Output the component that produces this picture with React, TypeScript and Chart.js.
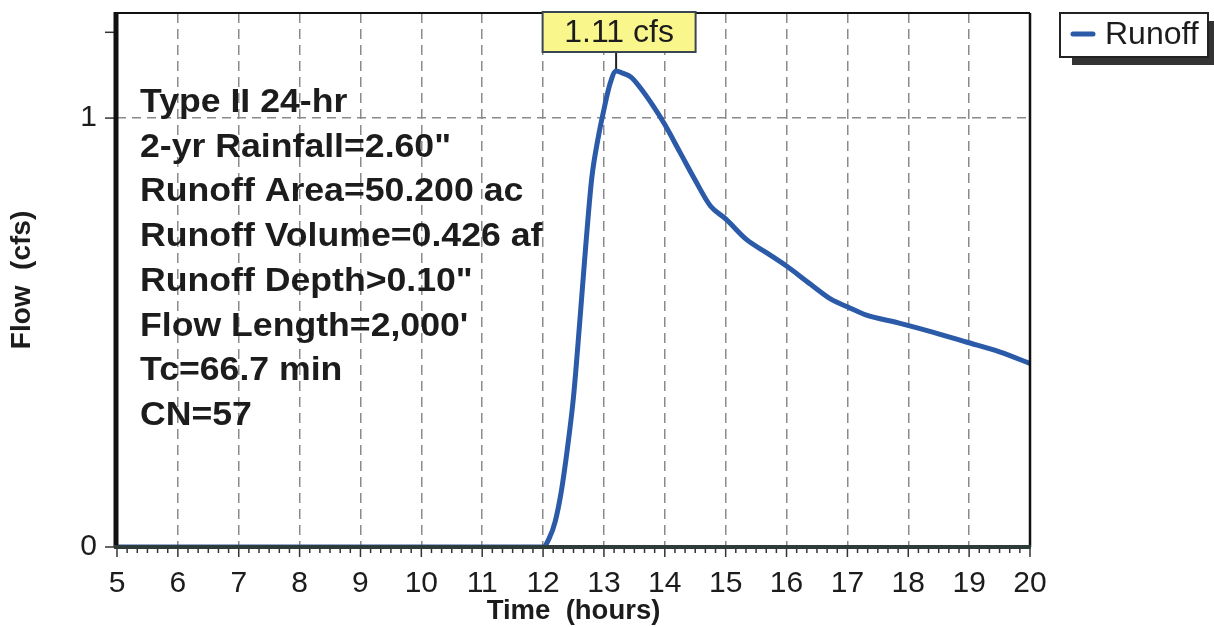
import React, { useEffect, useRef } from 'react';
import { Chart, registerables } from 'chart.js';

Chart.register(...registerables);

// ---- data ----
const timeHours = [5, 12.0, 12.1, 12.2, 12.3, 12.4, 12.5, 12.6, 12.7, 12.8, 12.9, 13.0, 13.1, 13.2, 13.3, 13.45, 13.6, 13.8, 14.0, 14.25, 14.5, 14.75, 15.0, 15.35, 15.65, 16.0, 16.4, 16.75, 17.0, 17.3, 17.85, 18.4, 18.95, 19.5, 20.0];
const flowCfs = [0, 0, 0.02, 0.06, 0.13, 0.23, 0.35, 0.52, 0.70, 0.86, 0.95, 1.02, 1.08, 1.11, 1.105, 1.095, 1.07, 1.03, 0.985, 0.92, 0.855, 0.795, 0.765, 0.716, 0.688, 0.655, 0.612, 0.576, 0.56, 0.541, 0.522, 0.501, 0.478, 0.455, 0.428];
const xTickValues = [5, 6, 7, 8, 9, 10, 11, 12, 13, 14, 15, 16, 17, 18, 19, 20];
const yTickValues = [0, 1, 1.2];
const yTickLabels = ['0', '1', ''];
const seriesName = 'Runoff';
const peakLabel = '1.11 cfs';
const infoLines = [
  'Type II 24-hr',
  '2-yr Rainfall=2.60"',
  'Runoff Area=50.200 ac',
  'Runoff Volume=0.426 af',
  'Runoff Depth>0.10"',
  "Flow Length=2,000'",
  'Tc=66.7 min',
  'CN=57',
];
const xTitle = 'Time  (hours)';
const yTitle = 'Flow  (cfs)';

const FONT = '"Liberation Sans", Arial, Helvetica, sans-serif';
const BLUE = '#2b5ba8';

const decorPlugin = {
  id: 'decor',
  beforeDraw(chart: any) {
    const { ctx, width, height } = chart;
    ctx.save();
    ctx.fillStyle = '#ffffff';
    ctx.fillRect(0, 0, width, height);
    ctx.restore();
  },
  afterDraw(chart: any) {
    const { ctx, chartArea, scales } = chart;
    const { left, right, top, bottom } = chartArea;
    const x = scales.x;
    const y = scales.y;
    ctx.save();

    // minor + major x ticks
    ctx.strokeStyle = '#333';
    ctx.lineWidth = 1.5;
    for (let i = 0; i <= 15 * 6; i++) {
      const v = 5 + i / 6;
      const px = x.getPixelForValue(v);
      const major = i % 6 === 0;
      ctx.beginPath();
      ctx.moveTo(px, bottom);
      ctx.lineTo(px, bottom + (major ? 10 : 6));
      ctx.stroke();
    }
    // y ticks
    for (const v of yTickValues) {
      const py = y.getPixelForValue(v);
      ctx.beginPath();
      ctx.moveTo(left - 12, py);
      ctx.lineTo(left, py);
      ctx.stroke();
    }

    // frame
    ctx.strokeStyle = '#111';
    ctx.lineWidth = 2;
    ctx.beginPath();
    ctx.moveTo(left, top);
    ctx.lineTo(right, top);
    ctx.stroke();
    ctx.lineWidth = 2.5;
    ctx.beginPath();
    ctx.moveTo(right, top);
    ctx.lineTo(right, bottom);
    ctx.stroke();
    ctx.lineWidth = 5;
    ctx.beginPath();
    ctx.moveTo(left - 1, top - 1);
    ctx.lineTo(left - 1, bottom);
    ctx.stroke();
    ctx.strokeStyle = '#2f3b38';
    ctx.lineWidth = 4;
    ctx.beginPath();
    ctx.moveTo(left - 3, bottom);
    ctx.lineTo(right + 1, bottom);
    ctx.stroke();

    // info text (slightly wide bold face)
    ctx.fillStyle = '#1c1c1c';
    ctx.font = `bold 33px ${FONT}`;
    ctx.textAlign = 'left';
    ctx.textBaseline = 'middle';
    infoLines.forEach((line, i) => {
      ctx.save();
      ctx.translate(left + 23, top + 90 + i * 44.7);
      ctx.scale(1.08, 1);
      ctx.fillText(line, 0, 0);
      ctx.restore();
    });

    // axis titles
    ctx.font = `bold 27.5px ${FONT}`;
    ctx.textAlign = 'center';
    ctx.fillText(xTitle, (left + right) / 2, 611);
    ctx.save();
    ctx.font = `bold 28px ${FONT}`;
    ctx.translate(22, (top + bottom) / 2);
    ctx.rotate(-Math.PI / 2);
    ctx.fillText(yTitle, 0, 0);
    ctx.restore();

    // peak label
    let pi = 0;
    flowCfs.forEach((v, i) => { if (v > flowCfs[pi]) pi = i; });
    const ppx = x.getPixelForValue(timeHours[pi]);
    const ppy = y.getPixelForValue(flowCfs[pi]);
    const bw = 153, bh = 40, btop = 12;
    ctx.strokeStyle = '#222';
    ctx.lineWidth = 2;
    ctx.beginPath();
    ctx.moveTo(ppx, btop + bh);
    ctx.lineTo(ppx, ppy - 2);
    ctx.stroke();
    ctx.fillStyle = '#f9f78c';
    ctx.fillRect(ppx - bw / 2 + 3, btop, bw, bh);
    ctx.strokeStyle = '#3a4652';
    ctx.strokeRect(ppx - bw / 2 + 3, btop, bw, bh);
    ctx.fillStyle = '#1c1c1c';
    ctx.font = `32px ${FONT}`;
    ctx.textAlign = 'center';
    ctx.fillText(peakLabel, ppx + 3, btop + bh / 2 + 1);

    // legend
    const lx = 1060, ly = 13, lw = 148, lh = 44;
    ctx.fillStyle = '#333';
    ctx.fillRect(lx + 12, ly + 8, lw, lh);
    ctx.fillStyle = '#fff';
    ctx.fillRect(lx, ly, lw, lh);
    ctx.strokeStyle = '#222';
    ctx.lineWidth = 2;
    ctx.strokeRect(lx, ly, lw, lh);
    ctx.strokeStyle = BLUE;
    ctx.lineWidth = 5;
    ctx.lineCap = 'round';
    ctx.beginPath();
    ctx.moveTo(lx + 13, ly + 21);
    ctx.lineTo(lx + 33, ly + 21);
    ctx.stroke();
    ctx.fillStyle = '#1c1c1c';
    ctx.font = `32px ${FONT}`;
    ctx.textAlign = 'left';
    ctx.fillText(seriesName, lx + 45, ly + 22);

    ctx.restore();
  },
};

export default function App() {
  const ref = useRef<HTMLCanvasElement | null>(null);
  useEffect(() => {
    document.body.style.margin = '0';
    const canvas = ref.current;
    if (!canvas) return;
    const chart = new Chart(canvas, {
      type: 'line',
      data: {
        datasets: [
          {
            label: seriesName,
            data: timeHours.map((t, i) => ({ x: t, y: flowCfs[i] })),
            borderColor: BLUE,
            borderWidth: 5,
            pointRadius: 0,
            cubicInterpolationMode: 'monotone',
            fill: false,
          },
        ],
      },
      options: {
        animation: false,
        responsive: false,
        maintainAspectRatio: false,
        layout: { padding: { left: 0, right: 184, top: 13, bottom: 0 } },
        plugins: { legend: { display: false }, tooltip: { enabled: false } },
        scales: {
          x: {
            type: 'linear',
            min: 5,
            max: 20,
            afterFit: (s: any) => { s.height = 80; s.paddingLeft = 0; s.paddingRight = 0; },
            afterBuildTicks: (s: any) => { s.ticks = xTickValues.map((v) => ({ value: v })); },
            ticks: {
              autoSkip: false,
              maxRotation: 0,
              padding: 19,
              color: '#1c1c1c',
              font: { family: FONT, size: 30 },
              callback: (v: any) => String(v),
            },
            grid: {
              drawTicks: false,
              lineWidth: 1.5,
              color: (c: any) => (c.tick && c.tick.value > 5 && c.tick.value < 20 ? '#8a8a8a' : 'rgba(0,0,0,0)'),
            },
            border: { display: false, dash: [10, 6] },
          },
          y: {
            type: 'linear',
            min: 0,
            max: 1.245,
            afterFit: (s: any) => { s.width = 117; s.paddingTop = 0; s.paddingBottom = 0; },
            afterBuildTicks: (s: any) => { s.ticks = yTickValues.map((v) => ({ value: v })); },
            ticks: {
              padding: 20,
              color: '#1c1c1c',
              font: { family: FONT, size: 30 },
              callback: (v: any) => {
                const i = yTickValues.indexOf(Number(v));
                return i >= 0 ? yTickLabels[i] : '';
              },
            },
            grid: {
              drawTicks: false,
              lineWidth: 1.5,
              color: (c: any) => (c.tick && c.tick.value === 1 ? '#8a8a8a' : 'rgba(0,0,0,0)'),
            },
            border: { display: false, dash: [9, 6] },
          },
        },
      },
      plugins: [decorPlugin],
    } as any);
    return () => chart.destroy();
  }, []);
  return (
    <div style={{ width: 1214, height: 627, position: 'relative' }}>
      <canvas ref={ref} width={1214} height={627} style={{ display: 'block' }} />
    </div>
  );
}
